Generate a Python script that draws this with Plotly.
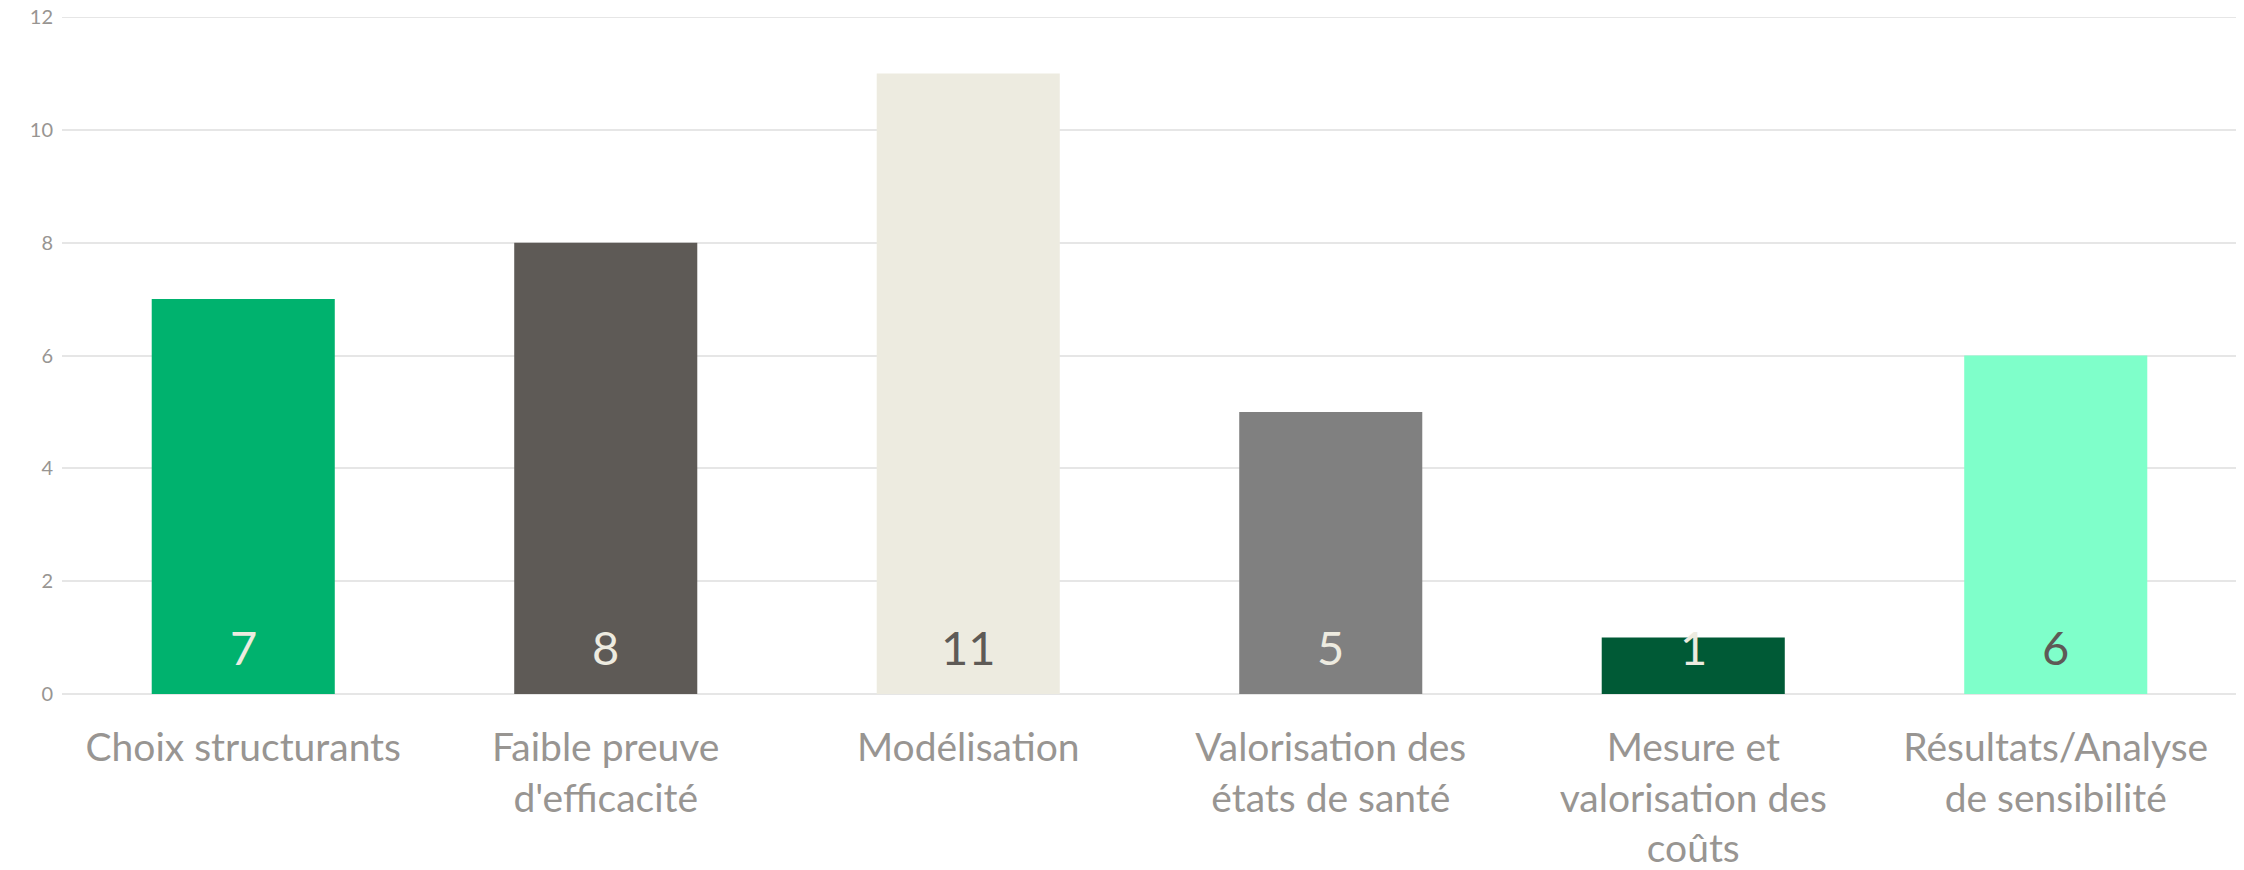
import plotly.graph_objects as go

categories = ["Choix structurants", "Faible preuve<br>d'efficacité", "Modélisation",
              "Valorisation des<br>états de santé", "Mesure et<br>valorisation des<br>coûts",
              "Résultats/Analyse<br>de sensibilité"]
values = [7, 8, 11, 5, 1, 6]
bar_colors = ["#00B26E", "#5E5A56", "#EDEBE0", "#808080", "#005A36", "#7FFFCA"]
label_colors = ["#EDEBE0", "#EDEBE0", "#5E5A56", "#EDEBE0", "#EDEBE0", "#5E5A56"]
y_ticks = [0, 2, 4, 6, 8, 10, 12]

FONT = "Lato"
GRID = "#E6E6E6"

fig = go.Figure()
fig.add_trace(go.Bar(x=categories, y=values, marker=dict(color=bar_colors, line=dict(width=0)),
                     hoverinfo="skip"))

for c, v, col in zip(categories, values, label_colors):
    fig.add_annotation(x=c, y=0, text=str(v), showarrow=False, yanchor="bottom", yshift=17,
                       font=dict(family=FONT, size=47, color=col))

# top gridline (plotly drops the gridline sitting exactly on the range edge)
fig.add_hline(y=y_ticks[-1], line=dict(color=GRID, width=2), layer="below")

fig.update_layout(
    width=2236, height=862,
    margin=dict(l=54, r=7, t=9, b=176, autoexpand=False),
    paper_bgcolor="white", plot_bgcolor="white",
    bargap=0.495, showlegend=False,
    font=dict(family=FONT, color="#989592"),
)
fig.update_xaxes(showgrid=False, showline=False, ticks="", zeroline=False, automargin=False,
                 ticklabelstandoff=27, ticklabeloverflow="allow",
                 tickfont=dict(family=FONT, size=39, color="#989592"))
fig.update_yaxes(range=[0, 12], tickvals=y_ticks, showgrid=True, gridcolor=GRID, gridwidth=2,
                 zeroline=True, zerolinecolor=GRID, zerolinewidth=2, showline=False,
                 ticks="", ticklabelstandoff=8, automargin=False, ticklabeloverflow="allow",
                 tickfont=dict(family=FONT, size=20, color="#989592"))

fig.write_html("out.html")
